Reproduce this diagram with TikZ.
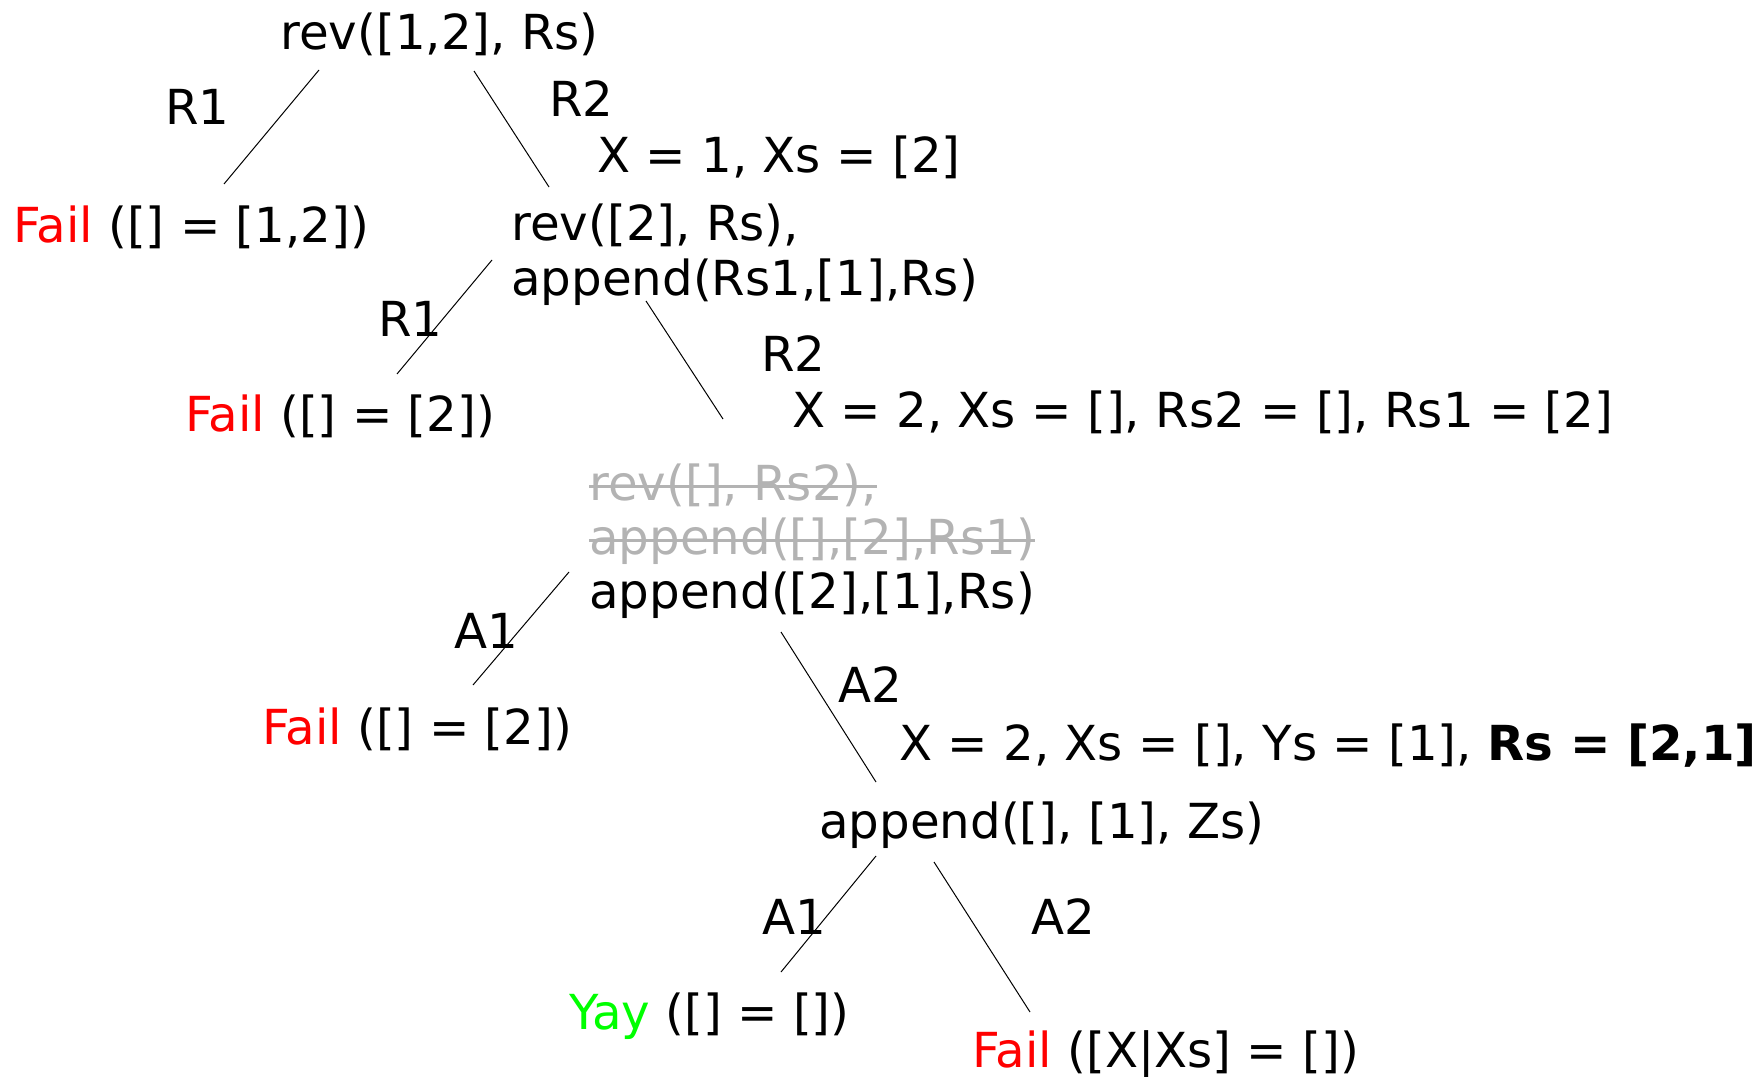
\documentclass[tikz,border=0pt]{standalone}
\usepackage{fontspec}
\setmainfont{DejaVu Sans}
\definecolor{failred}{RGB}{255,0,0}
\definecolor{yaygreen}{RGB}{0,255,0}
\definecolor{struck}{RGB}{179,179,179}
\begin{document}
\begin{tikzpicture}[x=0.75pt,y=-0.75pt,
  txt/.style={anchor=base west, inner sep=0pt, font=\fontsize{36.2}{43}\selectfont},
  edge/.style={line width=0.75pt, black},
  strike/.style={line width=2pt, struck}]
\useasboundingbox (0,0) rectangle (1762,1077);

\node[txt] (root) at (280,50) {rev([1,2], Rs)};
\node[txt] (r1a) at (165,125) {R1};
\node[txt] (r2a) at (549,117) {R2};
\node[txt] (u1) at (597,172) {X = 1, Xs = [2]};
\node[txt] (f1) at (13,242) {\textcolor{failred}{Fail} ([] = [1,2])};
\node[txt] (n2a) at (511,240) {rev([2], Rs),};
\node[txt] (n2b) at (511,295) {append(Rs1,[1],Rs)};
\node[txt] (r1b) at (378,336) {R1};
\node[txt] (f2) at (185,431) {\textcolor{failred}{Fail} ([] = [2])};
\node[txt] (r2b) at (761,371) {R2};
\node[txt] (u2) at (792,427) {X = 2, Xs = [], Rs2 = [], Rs1 = [2]};
\node[txt,text=struck] (g1) at (589,500) {rev([], Rs2),};
\node[txt,text=struck] (g2) at (589,554) {append([],[2],Rs1)};
\node[txt] (n3) at (589,608) {append([2],[1],Rs)};
\node[txt] (a1a) at (454,648) {A1};
\node[txt] (f3) at (262,744) {\textcolor{failred}{Fail} ([] = [2])};
\node[txt] (a2a) at (838,702) {A2};
\node[txt] (u3) at (899,760) {X = 2, Xs = [], Ys = [1], \textbf{Rs = [2,1]}};
\node[txt] (n4) at (819,838) {append([], [1], Zs)};
\node[txt] (a1b) at (762,934) {A1};
\node[txt] (a2b) at (1031,934) {A2};
\node[txt] (yay) at (569,1029) {\textcolor{yaygreen}{Yay} ([] = [])};
\node[txt] (f4) at (972,1067) {\textcolor{failred}{Fail} ([X|Xs] = [])};

\draw[strike] ([yshift=10pt]g1.base west) -- ([yshift=10pt]g1.base east);
\draw[strike] ([yshift=10pt]g2.base west) -- ([yshift=10pt]g2.base east);

\coordinate (ea1) at (319,70);  \coordinate (ea2) at (224,184);
\coordinate (eb1) at (474,71);  \coordinate (eb2) at (549,187);
\coordinate (ec1) at (492,260); \coordinate (ec2) at (397,374);
\coordinate (ed1) at (646,301); \coordinate (ed2) at (723,419);
\coordinate (ee1) at (569,572); \coordinate (ee2) at (473,685);
\coordinate (ef1) at (781,632); \coordinate (ef2) at (876,782);
\coordinate (eg1) at (876,856); \coordinate (eg2) at (781,972);
\coordinate (eh1) at (934,862); \coordinate (eh2) at (1030,1012);

\draw[edge] (ea1) -- (ea2);
\draw[edge] (eb1) -- (eb2);
\draw[edge] (ec1) -- (ec2);
\draw[edge] (ed1) -- (ed2);
\draw[edge] (ee1) -- (ee2);
\draw[edge] (ef1) -- (ef2);
\draw[edge] (eg1) -- (eg2);
\draw[edge] (eh1) -- (eh2);
\end{tikzpicture}
\end{document}
